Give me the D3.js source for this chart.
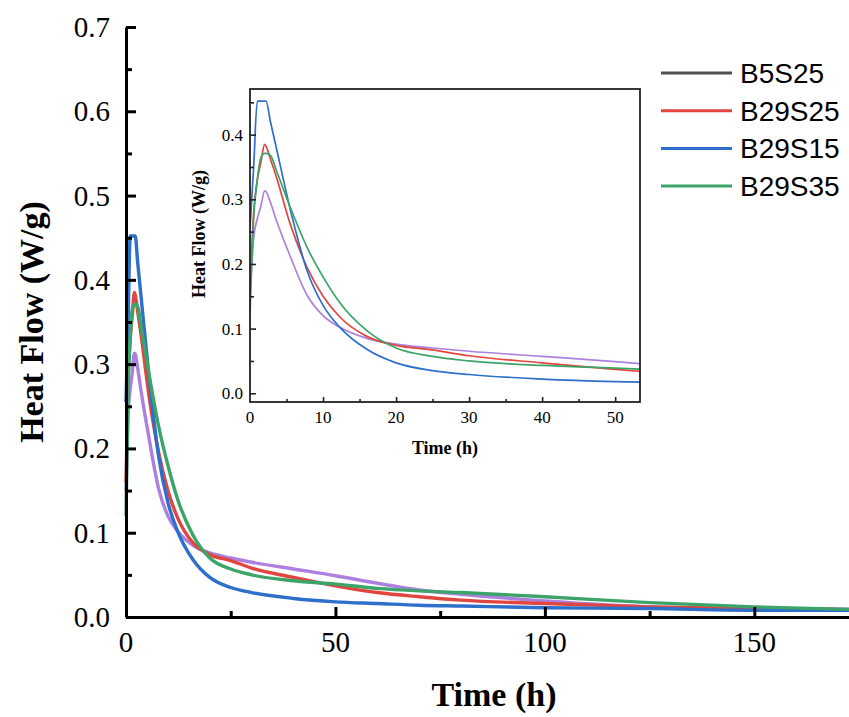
<!doctype html>
<html>
<head>
<meta charset="utf-8">
<script src="https://cdn.jsdelivr.net/npm/d3@7"></script>
<style>
  body { margin: 0; background: #fff; }
  svg { display: block; }
</style>
</head>
<body>
<script>
// hydration heat flow
const times  = [0, 0.5, 1, 1.5, 2, 2.2, 2.8, 3.6, 5.5, 7.8, 10, 12.3, 16, 20, 25, 30, 40, 50, 60, 70, 80, 100, 125, 150, 173];
const b5s25  = [0.150, 0.240, 0.270, 0.290, 0.313, 0.312, 0.295, 0.268, 0.212, 0.152, 0.120, 0.102, 0.085, 0.076, 0.070, 0.065, 0.057, 0.049, 0.040, 0.032, 0.027, 0.019, 0.012, 0.010, 0.009];
const b29s25 = [0.160, 0.280, 0.330, 0.358, 0.385, 0.382, 0.362, 0.335, 0.262, 0.195, 0.150, 0.118, 0.088, 0.074, 0.067, 0.058, 0.047, 0.037, 0.029, 0.024, 0.020, 0.016, 0.012, 0.010, 0.009];
const b29s15 = [0.255, 0.350, 0.452, 0.452, 0.452, 0.452, 0.420, 0.380, 0.285, 0.190, 0.136, 0.102, 0.068, 0.047, 0.035, 0.029, 0.022, 0.018, 0.016, 0.014, 0.013, 0.011, 0.010, 0.008, 0.008];
const b29s35 = [0.120, 0.270, 0.330, 0.365, 0.371, 0.371, 0.368, 0.345, 0.288, 0.226, 0.180, 0.140, 0.097, 0.070, 0.057, 0.050, 0.043, 0.039, 0.034, 0.031, 0.029, 0.024, 0.017, 0.012, 0.009];

const names = ["B5S25", "B29S25", "B29S15", "B29S35"];
const lineColors = ["#ad80e0", "#e0463f", "#2d6fca", "#3ca469"];
const legendColors = ["#505050", "#e0463f", "#2d6fca", "#3ca469"];

const series = [b5s25, b29s25, b29s15, b29s35].map((values, i) => ({
  name: names[i],
  color: lineColors[i],
  points: times.map((t, j) => [t, values[j]])
}));

const W = 849, H = 717;
const svg = d3.select("body").append("svg").attr("width", W).attr("height", H);

// ---- main chart
const x = d3.scaleLinear().domain([0, 172.6]).range([126, 849]);
const y = d3.scaleLinear().domain([0, 0.7]).range([617, 27]);
const serif = "'Liberation Serif', 'Times New Roman', serif";

const line = d3.line().x(d => x(d[0])).y(d => y(d[1])).curve(d3.curveMonotoneX);

svg.append("g").selectAll("path").data(series).join("path")
    .attr("fill", "none")
    .attr("stroke", d => d.color)
    .attr("stroke-width", 3.4)
    .attr("d", d => line(d.points));

// minor ticks
svg.append("g").attr("transform", `translate(0,${y(0)})`)
    .call(d3.axisTop(x).tickValues(d3.range(25, 175, 50)).tickSize(6).tickFormat(""))
    .call(g => g.select(".domain").remove())
    .selectAll("line").attr("stroke", "#000").attr("stroke-width", 3);
svg.append("g").attr("transform", `translate(${x(0)},0)`)
    .call(d3.axisRight(y).tickValues(d3.range(0.05, 0.7, 0.1)).tickSize(6).tickFormat(""))
    .call(g => g.select(".domain").remove())
    .selectAll("line").attr("stroke", "#000").attr("stroke-width", 3);

// major ticks
const xAxis = svg.append("g").attr("transform", `translate(0,${y(0)})`)
    .call(d3.axisTop(x).tickValues([0, 50, 100, 150]).tickSize(10).tickSizeOuter(0).tickFormat(""));
xAxis.selectAll("line").attr("stroke", "#000").attr("stroke-width", 3);
xAxis.select(".domain").attr("stroke", "#000").attr("stroke-width", 3);

const yAxis = svg.append("g").attr("transform", `translate(${x(0)},0)`)
    .call(d3.axisRight(y).ticks(7).tickSize(10).tickSizeOuter(0).tickFormat(""));
yAxis.selectAll("line").attr("stroke", "#000").attr("stroke-width", 3);
yAxis.select(".domain").attr("stroke", "#000").attr("stroke-width", 3);

svg.append("g").selectAll("text").data([0, 50, 100, 150]).join("text")
    .attr("x", d => x(d)).attr("y", 652)
    .attr("text-anchor", "middle")
    .attr("font-family", serif).attr("font-size", 29)
    .text(d => d);

svg.append("g").selectAll("text").data(d3.range(0, 0.71, 0.1)).join("text")
    .attr("x", 110).attr("y", d => y(d) + 10)
    .attr("text-anchor", "end")
    .attr("font-family", serif).attr("font-size", 29)
    .text(d3.format(".1f"));

svg.append("text")
    .attr("x", 494).attr("y", 706)
    .attr("text-anchor", "middle")
    .attr("font-family", serif).attr("font-size", 34).attr("font-weight", "bold")
    .text("Time (h)");

svg.append("text")
    .attr("transform", `translate(43,${322}) rotate(-90)`)
    .attr("text-anchor", "middle")
    .attr("font-family", serif).attr("font-size", 34).attr("font-weight", "bold")
    .text("Heat Flow (W/g)");

// ---- legend
const legend = svg.append("g").selectAll("g").data(names).join("g")
    .attr("transform", (d, i) => `translate(0,${73 + i * 37.7})`);
legend.append("line")
    .attr("x1", 661).attr("x2", 732)
    .attr("stroke", (d, i) => legendColors[i]).attr("stroke-width", 3);
legend.append("text")
    .attr("x", 740).attr("y", 10)
    .attr("font-family", "'Liberation Sans', Arial, sans-serif").attr("font-size", 28)
    .text(d => d);

// ---- inset
const ix = d3.scaleLinear().domain([0, 53.4]).range([250, 640]);
const iy = d3.scaleLinear().domain([-0.0135, 0.4706]).range([402, 89]);

svg.append("defs").append("clipPath").attr("id", "inset-clip")
  .append("rect").attr("x", 250).attr("y", 89).attr("width", 390).attr("height", 313);

const iline = d3.line().x(d => ix(d[0])).y(d => iy(d[1])).curve(d3.curveMonotoneX);

const inset = svg.append("g");
inset.append("rect").attr("x", 250).attr("y", 89).attr("width", 390).attr("height", 313)
    .attr("fill", "#fff");
inset.append("g").attr("clip-path", "url(#inset-clip)")
  .selectAll("path").data(series).join("path")
    .attr("fill", "none")
    .attr("stroke", d => d.color)
    .attr("stroke-width", 1.7)
    .attr("d", d => iline(d.points));

inset.append("g").attr("transform", "translate(0,402)")
    .call(d3.axisTop(ix).tickValues(d3.range(5, 53, 10)).tickSize(3).tickFormat(""))
    .call(g => g.select(".domain").remove())
    .selectAll("line").attr("stroke", "#222").attr("stroke-width", 1.6);
inset.append("g").attr("transform", "translate(0,402)")
    .call(d3.axisTop(ix).tickValues(d3.range(10, 53, 10)).tickSize(5).tickFormat(""))
    .call(g => g.select(".domain").remove())
    .selectAll("line").attr("stroke", "#222").attr("stroke-width", 1.6);
inset.append("g").attr("transform", "translate(250,0)")
    .call(d3.axisRight(iy).tickValues(d3.range(0.05, 0.46, 0.1)).tickSize(4).tickFormat(""))
    .call(g => g.select(".domain").remove())
    .selectAll("line").attr("stroke", "#222").attr("stroke-width", 1.6);
inset.append("g").attr("transform", "translate(250,0)")
    .call(d3.axisRight(iy).tickValues(d3.range(0, 0.41, 0.1)).tickSize(6).tickFormat(""))
    .call(g => g.select(".domain").remove())
    .selectAll("line").attr("stroke", "#222").attr("stroke-width", 1.6);

inset.append("rect").attr("x", 250).attr("y", 89).attr("width", 390).attr("height", 313)
    .attr("fill", "none").attr("stroke", "#222").attr("stroke-width", 1.8);

inset.append("g").selectAll("text").data(d3.range(0, 51, 10)).join("text")
    .attr("x", d => ix(d)).attr("y", 423)
    .attr("text-anchor", "middle")
    .attr("font-family", serif).attr("font-size", 17)
    .text(d => d);
inset.append("g").selectAll("text").data(d3.range(0, 0.41, 0.1)).join("text")
    .attr("x", 243).attr("y", d => iy(d) + 6)
    .attr("text-anchor", "end")
    .attr("font-family", serif).attr("font-size", 17)
    .text(d3.format(".1f"));

inset.append("text")
    .attr("x", 445).attr("y", 454)
    .attr("text-anchor", "middle")
    .attr("font-family", serif).attr("font-size", 18).attr("font-weight", "bold")
    .text("Time (h)");
inset.append("text")
    .attr("transform", "translate(205,234) rotate(-90)")
    .attr("text-anchor", "middle")
    .attr("font-family", serif).attr("font-size", 18).attr("font-weight", "bold")
    .text("Heat Flow (W/g)");
</script>
</body>
</html>
